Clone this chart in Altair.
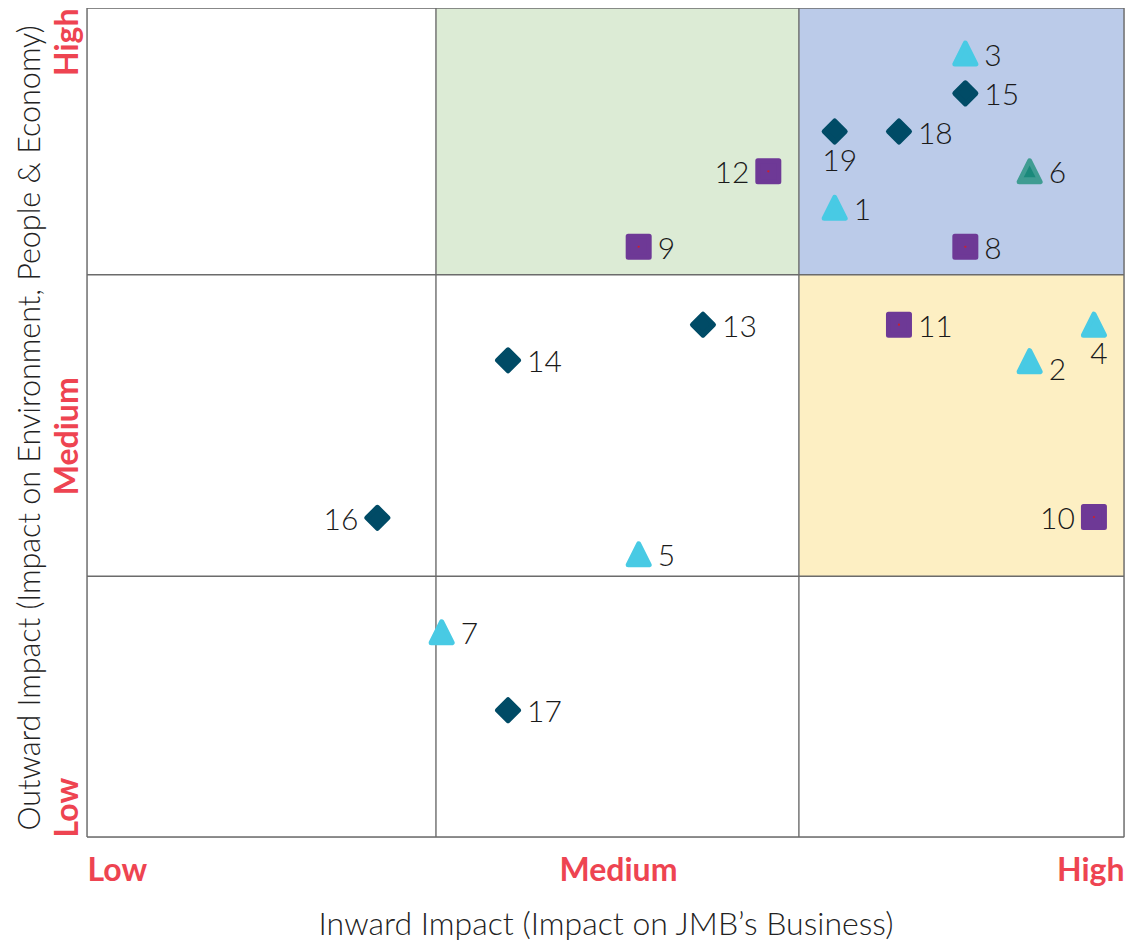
import altair as alt
import pandas as pd

# ---- data ----
ids = [str(i) for i in range(1, 20)]
inward = [72.1, 90.9, 84.7, 97.1, 53.2, 90.9, 34.2, 84.7, 53.2, 97.1,
          78.3, 65.7, 59.4, 40.6, 84.7, 28.0, 40.6, 78.3, 72.1]
outward = [75.9, 57.4, 94.5, 61.8, 34.1, 80.3, 24.7, 71.2, 71.2, 38.6,
           61.8, 80.3, 61.8, 57.5, 89.7, 38.5, 15.3, 85.1, 85.1]
kinds = ["Triangle", "Triangle", "Triangle", "Triangle", "Triangle", "Teal triangle",
         "Triangle", "Square", "Square", "Square", "Square", "Square",
         "Diamond", "Diamond", "Diamond", "Diamond", "Diamond", "Diamond", "Diamond"]
label_side = ["right", "right low", "right", "below", "right", "right", "right", "right",
              "right", "left", "right", "left", "right", "right", "right", "left",
              "right", "right", "below"]

# quadrant boundaries (Low / Medium / High bands)
x_bounds = [0, 33.65, 68.65, 100]
y_bounds = [0, 31.45, 67.83, 100]
x_label_pos = [0, 51.2, 100]
y_label_pos = [0, 48.4, 100]

# shaded cells: (x band index, y band index, colour)
cell_x = [1, 2, 2]
cell_y = [2, 2, 1]
cell_color = ["#DCEBD5", "#BBCBE9", "#FDEFC3"]

kind_domain = ["Triangle", "Teal triangle", "Square", "Diamond"]
kind_colors = ["#48CAE4", "#3F9C92", "#6E3996", "#004B66"]
tri_path = "M0,-1L1,1L-1,1Z"
kind_shapes = [tri_path, tri_path, "square", "diamond"]
kind_sizes = [441, 441, 400, 576]

# ---- tables ----
pts = pd.DataFrame({"id": ids, "inward": inward, "outward": outward,
                    "kind": kinds, "side": label_side})
cells = pd.DataFrame({
    "x": [x_bounds[i] for i in cell_x], "x2": [x_bounds[i + 1] for i in cell_x],
    "y": [y_bounds[j] for j in cell_y], "y2": [y_bounds[j + 1] for j in cell_y],
    "c": cell_color})
vlines = pd.DataFrame({"x": x_bounds})
hlines = pd.DataFrame({"y": y_bounds})

FONT = "Lato"
RED = "#EE4451"
LINE = "#6b6b6b"
W, H = 1037, 829

xscale = alt.Scale(domain=[0, 100], nice=False, zero=False)
yscale = alt.Scale(domain=[0, 100], nice=False, zero=False)

level_expr = "datum.value < 10 ? 'Low' : datum.value > 90 ? 'High' : 'Medium'"

x_axis = alt.Axis(
    values=x_label_pos, labelExpr=level_expr, labelFlush=True,
    labelFont=FONT, labelFontWeight="bold", labelFontSize=32, labelColor=RED,
    labelBaseline="alphabetic", labelPadding=43, labelOverlap=False,
    ticks=False, tickSize=0, domain=False, grid=False,
    title="Inward Impact (Impact on JMB’s Business)",
    titleFont=FONT, titleFontWeight=300, titleFontSize=32, titleColor="#222222",
    titleBaseline="alphabetic", titleAlign="center", titleX=W / 2, titleY=97)

y_axis = alt.Axis(
    values=y_label_pos, labelExpr=level_expr, labelAngle=270,
    labelAlign={"condition": [{"test": "datum.value < 10", "value": "left"},
                              {"test": "datum.value > 90", "value": "right"}],
                "value": "center"},
    labelFont=FONT, labelFontWeight="bold", labelFontSize=32, labelColor=RED,
    labelBaseline="alphabetic", labelPadding=10, labelOverlap=False,
    ticks=False, tickSize=0, domain=False, grid=False,
    title="Outward Impact (Impact on Environment, People & Economy)",
    titleFont=FONT, titleFontWeight=300, titleFontSize=30.5, titleColor="#222222",
    titleAngle=270, titleBaseline="alphabetic", titleAlign="center",
    titleX=-48, titleY=H / 2 + 5)

bg = alt.Chart(cells).mark_rect(strokeWidth=0).encode(
    x=alt.X("x:Q", scale=xscale, axis=x_axis),
    x2="x2:Q",
    y=alt.Y("y:Q", scale=yscale, axis=y_axis),
    y2="y2:Q",
    fill=alt.Fill("c:N", scale=None, legend=None))

vr = alt.Chart(vlines).mark_rule(color=LINE, strokeWidth=1.4).encode(
    x=alt.X("x:Q", scale=xscale), y=alt.value(0), y2=alt.value(H))
hr = alt.Chart(hlines).mark_rule(color=LINE, strokeWidth=1.4).encode(
    y=alt.Y("y:Q", scale=yscale), x=alt.value(0), x2=alt.value(W))

kind_scale = alt.Scale(domain=kind_domain, range=kind_colors)
points = alt.Chart(pts).mark_point(filled=True, opacity=1, strokeWidth=5,
                                   strokeJoin="round").encode(
    x=alt.X("inward:Q", scale=xscale),
    y=alt.Y("outward:Q", scale=yscale),
    shape=alt.Shape("kind:N", scale=alt.Scale(domain=kind_domain, range=kind_shapes),
                    legend=None),
    size=alt.Size("kind:N", scale=alt.Scale(domain=kind_domain, range=kind_sizes),
                  legend=None),
    fill=alt.Fill("kind:N", scale=kind_scale, legend=None),
    stroke=alt.Stroke("kind:N", scale=kind_scale, legend=None))

inner = alt.Chart(pts).transform_filter(alt.datum.kind == "Teal triangle").mark_point(
    filled=True, opacity=1, shape=tri_path, size=140, fill="#1A897B", strokeWidth=0
).encode(x=alt.X("inward:Q", scale=xscale), y=alt.Y("outward:Q", scale=yscale))

dots = alt.Chart(pts).transform_filter(alt.datum.kind == "Square").mark_point(
    filled=True, opacity=1, shape="circle", size=5, fill="#D0202A", strokeWidth=0
).encode(x=alt.X("inward:Q", scale=xscale), y=alt.Y("outward:Q", scale=yscale))


def labels(side, align, dx, dy):
    return alt.Chart(pts).transform_filter(alt.datum.side == side).mark_text(
        font=FONT, fontWeight=300, fontSize=30, color="#1a1a1a",
        align=align, baseline="middle", dx=dx, dy=dy
    ).encode(x=alt.X("inward:Q", scale=xscale),
             y=alt.Y("outward:Q", scale=yscale), text="id:N")


chart = alt.layer(
    bg, vr, hr, points, inner, dots,
    labels("right", "left", 19, 3),
    labels("right low", "left", 19, 10),
    labels("left", "right", -19, 3),
    labels("below", "center", 5, 30),
).properties(
    width=W, height=H,
    autosize=alt.AutoSizeParams(type="none"),
    padding={"left": 79, "top": 0, "right": 1, "bottom": 103},
).configure_view(stroke=None).configure(font=FONT)

chart.save("out.html", embed_options={"renderer": "svg", "actions": False})
